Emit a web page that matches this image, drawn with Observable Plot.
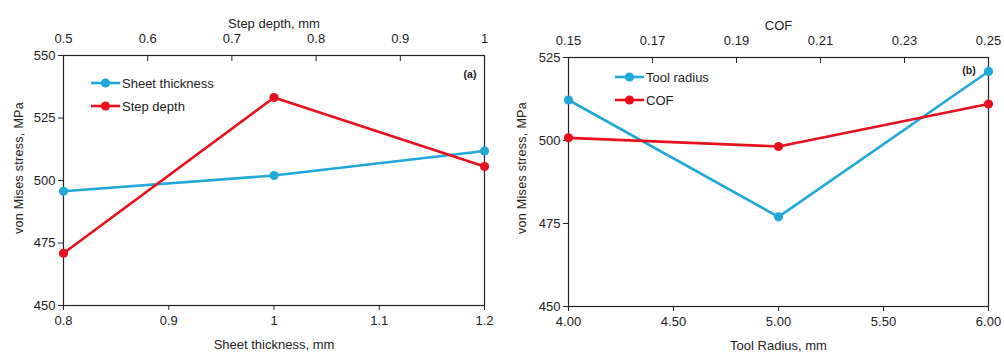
<!DOCTYPE html>
<html>
<head>
<meta charset="utf-8">
<script src="https://cdn.jsdelivr.net/npm/d3@7"></script>
<script src="https://cdn.jsdelivr.net/npm/@observablehq/plot@0.6"></script>
<style>
  html, body { margin: 0; padding: 0; background: #fff; }
  #wrap { position: relative; width: 1004px; height: 354px; font-family: "Liberation Sans", Arial, sans-serif; color: #222; }
  .panel { position: absolute; top: 0; }
  .ylab { position: absolute; font-size: 12.5px; white-space: nowrap; transform: translate(-50%, -50%) rotate(-90deg); letter-spacing: 0.3px; }
  .tag { position: absolute; font-size: 10.5px; font-weight: bold; transform: translate(-50%, -50%); }
  svg.leg { position: absolute; overflow: visible; }
</style>
</head>
<body>
<div id="wrap"></div>
<script>
// ---- Data ----
// Panel (a)
const sheetThickness = [0.8, 1.0, 1.2];           // mm (bottom axis)
const sheetStress    = [495.7, 502.0, 511.8];     // MPa
const stepDepth      = [0.5, 0.75, 1.0];          // mm (top axis)
const stepStress     = [470.9, 533.2, 505.6];     // MPa
const ticksThickness = [0.8, 0.9, 1.0, 1.1, 1.2];
const ticksDepth     = [0.5, 0.6, 0.7, 0.8, 0.9, 1.0];
const ticksStressA   = [450, 475, 500, 525, 550];

// Panel (b)
const toolRadius     = [4, 5, 6];                 // mm (bottom axis)
const radiusStress   = [512.2, 477.0, 520.8];     // MPa
const cof            = [0.15, 0.20, 0.25];        // (top axis)
const cofStress      = [500.8, 498.2, 511.0];     // MPa
const ticksRadius    = [4.0, 4.5, 5.0, 5.5, 6.0];
const ticksCOF       = [0.15, 0.17, 0.19, 0.21, 0.23, 0.25];
const ticksStressB   = [450, 475, 500, 525];

const BLUE = "#1fa8d8";
const RED  = "#e8101c";
const INK  = "#222";

function lin(a0, a1, b0, b1) {
  const f = v => b0 + (v - a0) / (a1 - a0) * (b1 - b0);
  f.invert = v => a0 + (v - b0) / (b1 - b0) * (a1 - a0);
  return f;
}
const clean = v => Math.round(v * 1000) / 1000;

function panel(o) {
  const top = lin(o.topDomain[0], o.topDomain[1], o.xDomain[0], o.xDomain[1]);
  const bottomData = o.bx.map((x, i) => ({x, y: o.by[i]}));
  const topData = o.tx.map((t, i) => ({x: top(t), y: o.ty[i]}));
  return Plot.plot({
    width: 502, height: 354,
    marginLeft: o.ml, marginRight: o.mr, marginTop: o.mt, marginBottom: o.mb,
    x: {domain: o.xDomain},
    y: {domain: o.yDomain},
    style: {fontFamily: "'Liberation Sans', Arial, sans-serif", fontSize: "13px", color: INK, background: "white"},
    marks: [
      Plot.frame({stroke: INK, strokeWidth: 1.2}),
      Plot.axisY({ticks: o.yTicks, tickSize: 5, tickPadding: 3, label: null, fontSize: 13, stroke: INK, tickFormat: d => String(d)}),
      Plot.axisX({anchor: "bottom", ticks: o.bTicks, tickSize: 5, tickPadding: 5, fontSize: 13,
        tickFormat: o.bFormat, label: o.bLabel, labelAnchor: "center", labelArrow: "none", labelOffset: 43}),
      Plot.axisX({anchor: "top", ticks: o.tTicks.map(top), tickSize: -5, tickPadding: 18, fontSize: 13,
        tickFormat: d => String(clean(top.invert(d))), label: o.tLabel, labelAnchor: "center", labelArrow: "none", labelOffset: 37}),
      Plot.line(bottomData, {x: "x", y: "y", stroke: BLUE, strokeWidth: 2.6}),
      Plot.dot(bottomData, {x: "x", y: "y", r: 4.6, fill: BLUE}),
      Plot.line(topData, {x: "x", y: "y", stroke: RED, strokeWidth: 2.6}),
      Plot.dot(topData, {x: "x", y: "y", r: 4.6, fill: RED})
    ]
  });
}

const wrap = document.getElementById("wrap");

const pa = panel({
  xDomain: [0.8, 1.2], yDomain: [450, 550], topDomain: [0.5, 1.0],
  bx: sheetThickness, by: sheetStress, tx: stepDepth, ty: stepStress,
  bTicks: ticksThickness, tTicks: ticksDepth, yTicks: ticksStressA,
  bFormat: d => String(clean(d)),
  bLabel: "Sheet thickness, mm", tLabel: "Step depth, mm",
  ml: 63, mr: 18, mt: 55, mb: 49
});
pa.classList.add("panel"); pa.style.left = "0px";
wrap.appendChild(pa);

const pb = panel({
  xDomain: [4, 6], yDomain: [450, 525], topDomain: [0.15, 0.25],
  bx: toolRadius, by: radiusStress, tx: cof, ty: cofStress,
  bTicks: ticksRadius, tTicks: ticksCOF, yTicks: ticksStressB,
  bFormat: d => d3.format(".2f")(d),
  bLabel: "Tool Radius, mm", tLabel: "COF",
  ml: 66, mr: 16, mt: 57, mb: 48
});
pb.classList.add("panel"); pb.style.left = "502px";
wrap.appendChild(pb);

// y labels
function addYLabel(x, y) {
  const d = document.createElement("div");
  d.className = "ylab"; d.textContent = "von Mises stress, MPa";
  d.style.left = x + "px"; d.style.top = y + "px";
  wrap.appendChild(d);
}
addYLabel(19, 168);
addYLabel(522, 168);

// panel tags
function addTag(t, x, y) {
  const d = document.createElement("div");
  d.className = "tag"; d.textContent = t;
  d.style.left = x + "px"; d.style.top = y + "px";
  wrap.appendChild(d);
}
addTag("(a)", 470, 74);
addTag("(b)", 969, 70);

// legends
function addLegend(x, y, items) {
  const ns = "http://www.w3.org/2000/svg";
  const svg = document.createElementNS(ns, "svg");
  svg.setAttribute("class", "leg");
  svg.setAttribute("width", 160); svg.setAttribute("height", 50);
  svg.style.left = x + "px"; svg.style.top = y + "px";
  items.forEach((it, i) => {
    const cy = 8 + i * 23;
    const l = document.createElementNS(ns, "line");
    l.setAttribute("x1", 0); l.setAttribute("x2", 29); l.setAttribute("y1", cy); l.setAttribute("y2", cy);
    l.setAttribute("stroke", it.color); l.setAttribute("stroke-width", 2.6);
    svg.appendChild(l);
    const c = document.createElementNS(ns, "circle");
    c.setAttribute("cx", 14.5); c.setAttribute("cy", cy); c.setAttribute("r", 4.6); c.setAttribute("fill", it.color);
    svg.appendChild(c);
    const t = document.createElementNS(ns, "text");
    t.setAttribute("x", 31); t.setAttribute("y", cy); t.setAttribute("dy", "0.35em");
    t.setAttribute("font-size", "13"); t.setAttribute("fill", INK);
    t.setAttribute("font-family", "'Liberation Sans', Arial, sans-serif");
    t.textContent = it.label;
    svg.appendChild(t);
  });
  wrap.appendChild(svg);
}
addLegend(91, 75, [{label: "Sheet thickness", color: BLUE}, {label: "Step depth", color: RED}]);
addLegend(615, 69, [{label: "Tool radius", color: BLUE}, {label: "COF", color: RED}]);
</script>
</body>
</html>
